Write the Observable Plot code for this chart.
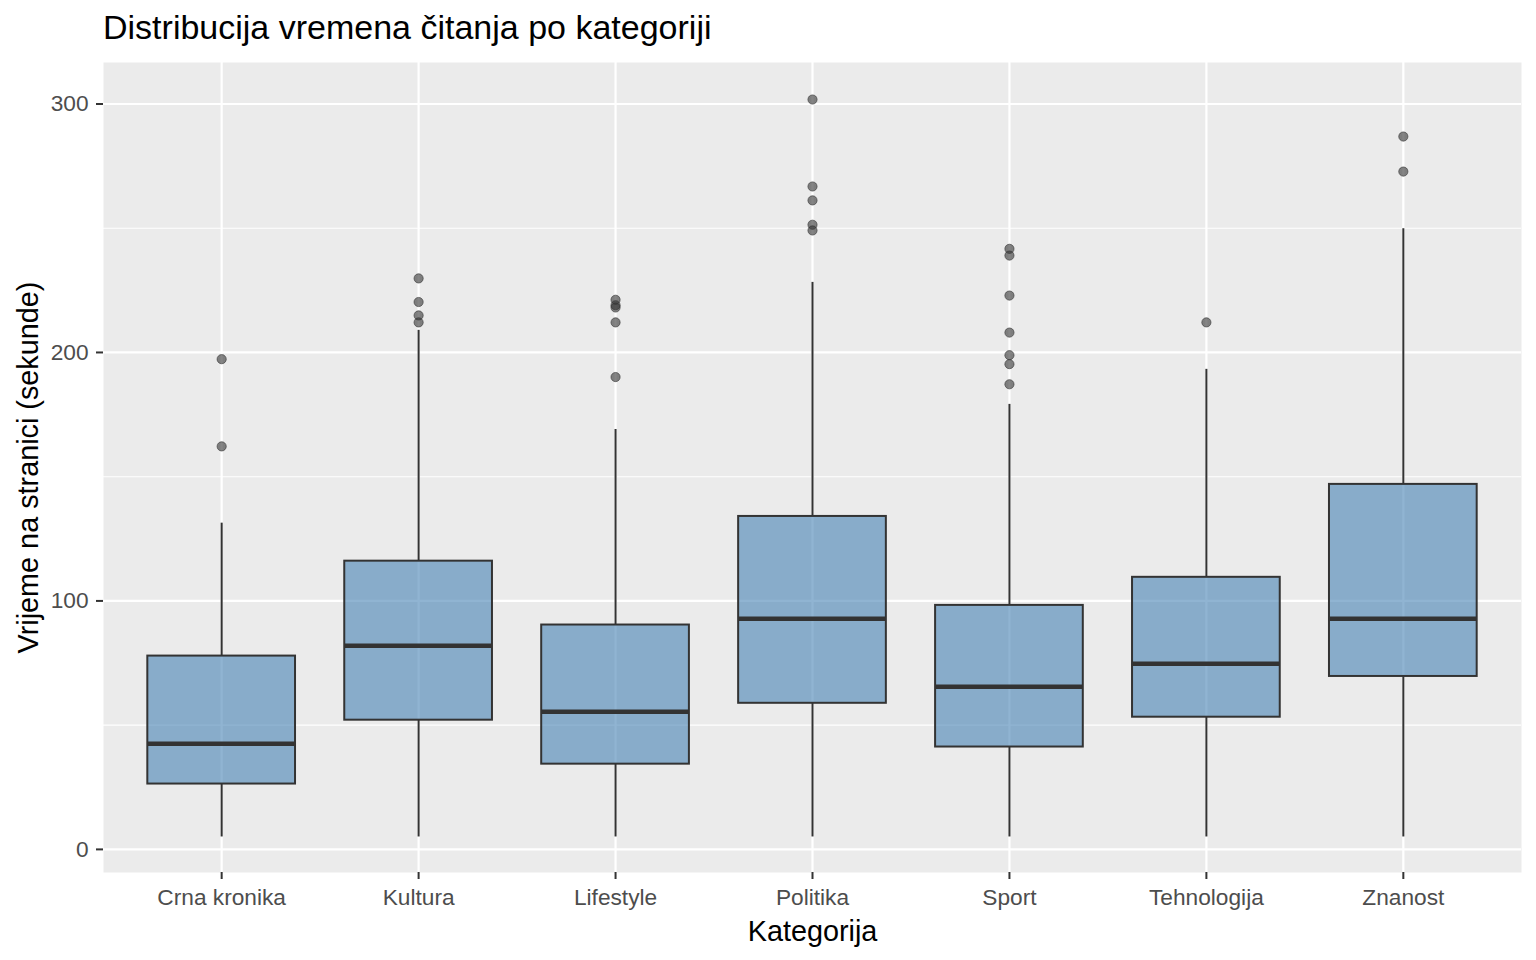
<!DOCTYPE html>
<html>
<head>
<meta charset="utf-8">
<script src="https://cdn.jsdelivr.net/npm/d3@7"></script>
<script src="https://cdn.jsdelivr.net/npm/@observablehq/plot@0.6"></script>
<style>
  html, body { margin: 0; padding: 0; background: #ffffff; }
  body { width: 1536px; font-family: "Liberation Sans", Arial, sans-serif; }
  #title { position: relative; height: 50px; }
  #title span { position: absolute; left: 103px; top: 9.5px; font-size: 34px; line-height: 34px; color: #000; white-space: nowrap; }
  #chart svg { display: block; }
</style>
</head>
<body>
<div id="title"><span>Distribucija vremena čitanja po kategoriji</span></div>
<div id="chart"></div>
<script>
// Categories and box statistics (seconds)
const categories = ["Crna kronika", "Kultura", "Lifestyle", "Politika", "Sport", "Tehnologija", "Znanost"];
const whiskerLow  = [5, 5, 5, 5, 5, 5, 5];
const q1          = [26.3, 52.0, 34.3, 58.8, 41.2, 53.2, 69.6];
const median      = [42.5, 82.0, 55.4, 92.8, 65.5, 74.7, 92.8];
const q3          = [77.8, 116.0, 90.3, 134.0, 98.2, 109.5, 146.9];
const whiskerHigh = [131.3, 208.9, 169.0, 228.2, 179.1, 193.2, 249.8];

// Outliers
const outlierCategory = [
  "Crna kronika", "Crna kronika",
  "Kultura", "Kultura", "Kultura", "Kultura",
  "Lifestyle", "Lifestyle", "Lifestyle", "Lifestyle", "Lifestyle",
  "Politika", "Politika", "Politika", "Politika", "Politika",
  "Sport", "Sport", "Sport", "Sport", "Sport", "Sport", "Sport",
  "Tehnologija",
  "Znanost", "Znanost"
];
const outlierValue = [
  197.3, 162.2,
  229.8, 220.3, 214.9, 212.1,
  221.2, 219.0, 218.1, 212.1, 190.1,
  301.8, 266.8, 261.2, 251.4, 249.1,
  241.7, 239.0, 222.9, 208.0, 198.9, 195.3, 187.2,
  212.1,
  286.9, 272.8
];

const yMajorTicks = [0, 100, 200, 300];
const yMinorTicks = [50, 150, 250];

const titleX = "Kategorija";
const titleY = "Vrijeme na stranici (sekunde)";

const stats = categories.map((c, i) => ({
  cat: c, lo: whiskerLow[i], q1: q1[i], med: median[i], q3: q3[i], hi: whiskerHigh[i]
}));
const outliers = outlierCategory.map((c, i) => ({cat: c, v: outlierValue[i]}));

const dark = "#333333";

const chart = Plot.plot({
  width: 1536,
  height: 910,
  marginLeft: 103,
  marginRight: 15,
  marginTop: 12,
  marginBottom: 88,
  style: {fontFamily: "'Liberation Sans', Arial, sans-serif", background: "#ffffff", overflow: "visible"},
  x: {domain: categories, paddingInner: 0.25, paddingOuter: 0.225, align: 0.5, round: false, axis: null},
  y: {domain: [-9.3, 316.7], axis: null},
  marks: [
    Plot.frame({fill: "#EBEBEB", stroke: null}),
    Plot.gridY({ticks: yMinorTicks, stroke: "#ffffff", strokeOpacity: 1, strokeWidth: 1.1}),
    Plot.gridY({ticks: yMajorTicks, stroke: "#ffffff", strokeOpacity: 1, strokeWidth: 2.2}),
    Plot.gridX({stroke: "#ffffff", strokeOpacity: 1, strokeWidth: 2.2}),
    Plot.ruleX(stats, {x: "cat", y1: "lo", y2: "q1", stroke: dark, strokeWidth: 2}),
    Plot.ruleX(stats, {x: "cat", y1: "q3", y2: "hi", stroke: dark, strokeWidth: 2}),
    Plot.barY(stats, {x: "cat", y1: "q1", y2: "q3", fill: "steelblue", fillOpacity: 0.6, stroke: dark, strokeWidth: 2}),
    Plot.tickY(stats, {x: "cat", y: "med", stroke: dark, strokeWidth: 4.5}),
    Plot.dot(outliers, {x: "cat", y: "v", r: 4.6, fill: dark, fillOpacity: 0.6, stroke: dark, strokeOpacity: 0.6, strokeWidth: 1}),
    Plot.axisY({ticks: yMajorTicks, tickSize: 7, tickPadding: 8, fontSize: 22.7, fill: "#4D4D4D", stroke: dark, strokeWidth: 2, label: null}),
    Plot.axisX({tickSize: 7, tickPadding: 9.5, fontSize: 22.7, fill: "#4D4D4D", stroke: dark, strokeWidth: 2, label: null}),
    Plot.text([titleX], {text: d => d, frameAnchor: "bottom", lineAnchor: "middle", textAnchor: "middle", dy: 59, fontSize: 28.8, fill: "#000000"}),
    Plot.text([titleY], {text: d => d, frameAnchor: "left", lineAnchor: "middle", textAnchor: "middle", rotate: -90, dx: -75, fontSize: 28.8, fill: "#000000"})
  ]
});

document.getElementById("chart").appendChild(chart);
</script>
</body>
</html>
